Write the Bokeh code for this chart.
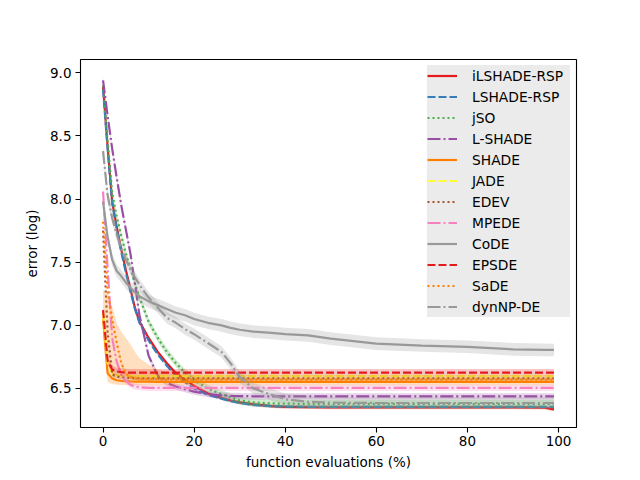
from bokeh.plotting import figure
from bokeh.models import Legend, LegendItem, FixedTicker, PrintfTickFormatter, Range1d
from bokeh.embed import file_html
from bokeh.resources import INLINE

# ---------------- data ----------------
xs = [0, 1, 2, 3, 4, 5, 6, 7, 8, 10, 12, 14, 16, 18, 20, 23, 26, 28, 30, 33, 37, 40, 45, 50, 60, 70, 80, 90, 97, 99]

ilshade_rsp = [8.89, 8.42, 7.98, 7.78, 7.60, 7.44, 7.29, 7.14, 7.03, 6.90, 6.79, 6.70, 6.62, 6.57, 6.52, 6.46, 6.425, 6.405, 6.39, 6.375, 6.36, 6.355, 6.352, 6.35, 6.35, 6.35, 6.35, 6.35, 6.348, 6.335]
lshade_rsp = [8.87, 8.40, 7.97, 7.76, 7.58, 7.42, 7.27, 7.13, 7.02, 6.88, 6.77, 6.68, 6.60, 6.55, 6.50, 6.45, 6.42, 6.40, 6.385, 6.37, 6.36, 6.357, 6.355, 6.355, 6.355, 6.355, 6.355, 6.355, 6.355, 6.355]
jso = [8.90, 8.46, 8.05, 7.86, 7.71, 7.57, 7.45, 7.33, 7.22, 7.03, 6.90, 6.79, 6.70, 6.625, 6.565, 6.50, 6.455, 6.43, 6.405, 6.39, 6.382, 6.38, 6.378, 6.378, 6.378, 6.378, 6.378, 6.378, 6.378, 6.378]
l_shade = [8.94, 8.66, 8.40, 8.17, 7.95, 7.76, 7.57, 7.33, 7.08, 6.76, 6.60, 6.545, 6.515, 6.495, 6.475, 6.455, 6.445, 6.442, 6.44, 6.438, 6.437, 6.437, 6.437, 6.437, 6.437, 6.437, 6.437, 6.437, 6.437, 6.437]
shade = [7.05, 6.62, 6.58, 6.565, 6.56, 6.558, 6.556, 6.555, 6.555, 6.554, 6.553, 6.552, 6.552, 6.552, 6.552, 6.552, 6.552, 6.552, 6.552, 6.552, 6.552, 6.552, 6.552, 6.552, 6.552, 6.552, 6.552, 6.552, 6.552, 6.552]
shade_upper = [7.28, 7.25, 7.15, 7.02, 6.95, 6.90, 6.85, 6.79, 6.74, 6.69, 6.65, 6.635, 6.625, 6.61, 6.60, 6.595, 6.59, 6.588, 6.586, 6.585, 6.585, 6.585, 6.585, 6.585, 6.585, 6.585, 6.585, 6.585, 6.585, 6.585]
shade_lower = [6.95, 6.55, 6.535, 6.53, 6.528, 6.527, 6.526, 6.525, 6.525, 6.525, 6.525, 6.525, 6.525, 6.525, 6.525, 6.525, 6.525, 6.525, 6.525, 6.525, 6.525, 6.525, 6.525, 6.525, 6.525, 6.525, 6.525, 6.525, 6.525, 6.525]
jade = [7.10, 6.70, 6.62, 6.605, 6.60, 6.598, 6.598, 6.598, 6.598, 6.598, 6.598, 6.598, 6.598, 6.598, 6.598, 6.598, 6.598, 6.598, 6.598, 6.598, 6.598, 6.598, 6.598, 6.598, 6.598, 6.598, 6.598, 6.598, 6.598, 6.598]
edev = [7.75, 6.95, 6.61, 6.595, 6.588, 6.585, 6.583, 6.582, 6.58, 6.58, 6.58, 6.58, 6.58, 6.58, 6.58, 6.58, 6.58, 6.58, 6.58, 6.58, 6.58, 6.58, 6.58, 6.58, 6.58, 6.58, 6.58, 6.58, 6.58, 6.58]
mpede = [8.06, 7.45, 6.90, 6.71, 6.61, 6.56, 6.53, 6.515, 6.51, 6.505, 6.505, 6.505, 6.505, 6.505, 6.505, 6.505, 6.505, 6.505, 6.505, 6.505, 6.505, 6.505, 6.505, 6.505, 6.505, 6.505, 6.505, 6.505, 6.505, 6.505]
code = [7.98, 7.70, 7.52, 7.43, 7.39, 7.34, 7.30, 7.26, 7.23, 7.19, 7.16, 7.13, 7.10, 7.08, 7.05, 7.02, 7.00, 6.98, 6.965, 6.95, 6.94, 6.93, 6.92, 6.895, 6.855, 6.84, 6.83, 6.81, 6.806, 6.805]
epsde = [7.12, 6.72, 6.65, 6.635, 6.63, 6.627, 6.625, 6.625, 6.625, 6.625, 6.625, 6.625, 6.625, 6.625, 6.625, 6.625, 6.625, 6.625, 6.625, 6.625, 6.625, 6.625, 6.625, 6.625, 6.625, 6.625, 6.625, 6.625, 6.625, 6.625]
sade = [7.82, 7.28, 7.05, 6.86, 6.70, 6.62, 6.59, 6.58, 6.577, 6.575, 6.573, 6.572, 6.571, 6.57, 6.57, 6.57, 6.57, 6.57, 6.57, 6.57, 6.57, 6.57, 6.57, 6.57, 6.57, 6.57, 6.57, 6.57, 6.57, 6.57]
dynnp_de = [8.38, 8.03, 7.85, 7.72, 7.61, 7.52, 7.45, 7.38, 7.32, 7.22, 7.14, 7.06, 7.02, 6.97, 6.93, 6.86, 6.79, 6.70, 6.59, 6.50, 6.45, 6.415, 6.395, 6.388, 6.385, 6.385, 6.385, 6.385, 6.385, 6.385]

names = ["iLSHADE-RSP", "LSHADE-RSP", "jSO", "L-SHADE", "SHADE", "JADE", "EDEV", "MPEDE", "CoDE", "EPSDE", "SaDE", "dynNP-DE"]
means = [ilshade_rsp, lshade_rsp, jso, l_shade, shade, jade, edev, mpede, code, epsde, sade, dynnp_de]
band_half = [0.015, 0.012, 0.03, 0.025, None, 0.015, 0.015, 0.025, 0.05, 0.03, 0.015, 0.045]

x_ticks = [0, 20, 40, 60, 80, 100]
y_ticks = [6.5, 7.0, 7.5, 8.0, 8.5, 9.0]

# ---------------- styles ----------------
colors = ["#e41a1c", "#377eb8", "#4daf4a", "#984ea3", "#ff7f00", "#ffff33",
          "#a65628", "#f781bf", "#999999", "#e41a1c", "#ff7f00", "#999999"]
dashes = ["solid", "8 3", "2 3", "13 3 2 3"] * 3
FONT = "DejaVu Sans"

p = figure(width=640, height=480, output_backend="svg", toolbar_location=None,
           x_range=Range1d(-4.95, 103.95), y_range=Range1d(6.191, 9.105),
           min_border_left=80, min_border_right=64, min_border_top=59, min_border_bottom=53)
p.background_fill_color = "white"
p.border_fill_color = "white"
p.outline_line_color = "black"
p.outline_line_width = 1.1
p.xgrid.visible = False
p.ygrid.visible = False

items = []
for name, m, hw, c, d in zip(names, means, band_half, colors, dashes):
    if hw is None:
        lo, hi = shade_lower, shade_upper
    else:
        lo = [v - hw for v in m]
        hi = [v + hw for v in m]
    p.varea(x=xs, y1=lo, y2=hi, fill_color=c, fill_alpha=0.25)
    r = p.line(x=xs, y=m, line_color=c, line_width=2.2, line_dash=d)
    items.append(LegendItem(label=name, renderers=[r]))

for ax in (p.xaxis[0], p.yaxis[0]):
    ax.major_label_text_font = FONT
    ax.major_label_text_font_size = "13.5px"
    ax.major_label_text_color = "black"
    ax.axis_label_text_font = FONT
    ax.axis_label_text_font_size = "13.5px"
    ax.axis_label_text_font_style = "normal"
    ax.axis_label_text_color = "black"
    ax.major_tick_in = 0
    ax.major_tick_out = 5
    ax.minor_tick_in = 0
    ax.minor_tick_out = 0
    ax.axis_line_color = None
    ax.major_tick_line_color = "black"
    ax.major_tick_line_width = 1.1

p.xaxis[0].ticker = FixedTicker(ticks=x_ticks)
p.yaxis[0].ticker = FixedTicker(ticks=y_ticks)
p.yaxis[0].formatter = PrintfTickFormatter(format="%.1f")
p.xaxis[0].axis_label = "function evaluations (%)"
p.yaxis[0].axis_label = "error (log)"
p.xaxis[0].major_label_standoff = 3
p.yaxis[0].major_label_standoff = 4
p.xaxis[0].axis_label_standoff = 5
p.yaxis[0].axis_label_standoff = 7

legend = Legend(items=items, location="top_right")
legend.margin = 6
legend.padding = 2
legend.spacing = 0
legend.glyph_width = 30
legend.glyph_height = 21
legend.label_height = 21
legend.label_width = 98
legend.label_standoff = 15
legend.label_text_font = FONT
legend.label_text_font_size = "13.8px"
legend.label_text_color = "black"
legend.background_fill_color = "#ebebeb"
legend.background_fill_alpha = 1.0
legend.border_line_color = None
p.add_layout(legend)

open("out.html", "w").write(file_html(p, INLINE))
